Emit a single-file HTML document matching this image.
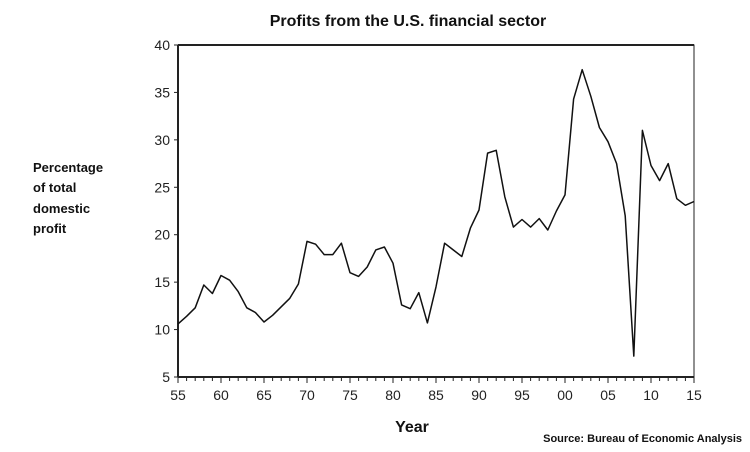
<!DOCTYPE html>
<html><head><style>
body{margin:0;background:#fff;width:750px;height:452px;overflow:hidden}
svg{display:block}
</style></head><body>
<svg id="s" width="750" height="452" xmlns="http://www.w3.org/2000/svg" font-family="Liberation Sans, sans-serif">
<text x="408" y="26" text-anchor="middle" font-size="16" font-weight="bold" fill="#111">Profits from the U.S. financial sector</text>
<g font-size="13" font-weight="bold" fill="#111">
<text x="33" y="172">Percentage</text>
<text x="33" y="192">of total</text>
<text x="33" y="213">domestic</text>
<text x="33" y="233">profit</text>
</g>
<text x="412" y="432" text-anchor="middle" font-size="16" font-weight="bold" fill="#111">Year</text>
<text x="742" y="442" text-anchor="end" font-size="11" font-weight="bold" fill="#111">Source: Bureau of Economic Analysis</text>
<rect x="178" y="45" width="516" height="332" fill="none" stroke="#222" stroke-width="1"/>
<line x1="178" y1="45" x2="694" y2="45" stroke="#222" stroke-width="2"/>
<line x1="178" y1="45" x2="178" y2="377" stroke="#222" stroke-width="2"/>
<line x1="178" y1="377" x2="694" y2="377" stroke="#222" stroke-width="2"/>
<g id="ax" font-size="14" fill="#222"></g>
<polyline id="p" fill="none" stroke="#111" stroke-width="1.5" stroke-linejoin="round"/>
</svg>
<script>
var X=function(y){return 178+(y-55)*8.6},Y=function(v){return 377-(v-5)*9.486};
var ax=document.getElementById('ax'),h='';
for(var v=5;v<=40;v+=5){h+='<line x1="174" x2="178" y1="'+Y(v)+'" y2="'+Y(v)+'" stroke="#222"/><text x="170" y="'+(Y(v)+5)+'" text-anchor="end">'+v+'</text>';}
var lab=['55','60','65','70','75','80','85','90','95','00','05','10','15'];
for(var y=55;y<=115;y++){var x=X(y);h+='<line x1="'+x+'" x2="'+x+'" y1="377" y2="'+(((y-55)%5==0)?383:381)+'" stroke="#222"/>';if((y-55)%5==0)h+='<text x="'+x+'" y="400" text-anchor="middle">'+lab[(y-55)/5]+'</text>';}
ax.innerHTML=h;
var d=[10.6,11.4,12.3,14.7,13.8,15.7,15.2,14,12.3,11.8,10.8,11.5,12.4,13.3,14.8,19.3,19,17.9,17.9,19.1,16,15.6,16.6,18.4,18.7,17,12.6,12.2,13.9,10.7,14.5,19.1,18.4,17.7,20.7,22.6,28.6,28.9,24,20.8,21.6,20.8,21.7,20.5,22.5,24.2,34.3,37.4,34.6,31.3,29.8,27.5,22,7.2,31,27.3,25.7,27.5,23.8,23.1,23.5];
var pts=d.map(function(v,i){return X(55+i).toFixed(1)+','+Y(v).toFixed(1)}).join(' ');
document.getElementById('p').setAttribute('points',pts);
</script>
</body></html>
